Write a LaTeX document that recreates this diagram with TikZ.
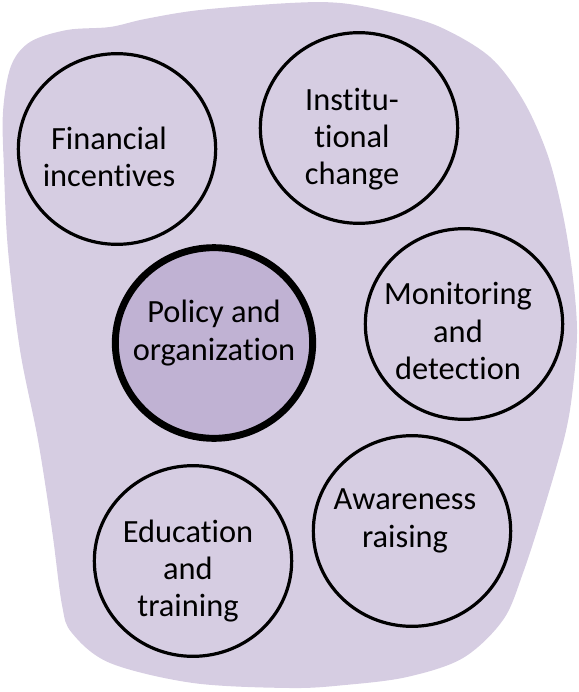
\documentclass[tikz,border=0pt]{standalone}
\usepackage{fontspec}
\setmainfont{Carlito}[Ligatures=NoCommon, RawFeature=-calt, RawFeature=-clig]
\usepackage{xcolor}
\usetikzlibrary{shapes.geometric}

\begin{document}
\begin{tikzpicture}[x=0.75pt, y=-0.75pt]

\definecolor{blobfill}{HTML}{D6CDE2}
\definecolor{corefill}{HTML}{C0B2D3}

\tikzset{
  ring/.style={ellipse, draw=black, line width=2.4pt, minimum width=148pt, minimum height=143pt},
  core/.style={ring, fill=corefill, line width=5.2pt},
  txt/.style={align=center, font=\fontsize{24.3}{28}\selectfont}
}

\useasboundingbox (0,0) rectangle (578,692);

%background shape
\fill[blobfill] plot[smooth cycle, tension=0.55] coordinates {
  (3,112) (11,66) (30,42) (67,30) (110,27) (145,19) (200,10) (290,3)
  (340,3) (390,12) (440,27) (490,57) (523,100) (547,153) (562,210)
  (572,270) (577,330) (573,387) (565,435) (545,505) (523,573) (503,620)
  (463,658) (407,677) (345,685) (290,688) (193,683) (110,663) (72,633)
  (62,605) (52,530) (38,440) (20,350) (8,250) (4,170)};

%circles
\node[ring] (fin) at (117,149) {};
\node[ring] (inst) at (359,128) {};
\node[core] (pol) at (214,343) {};
\node[ring] (mon) at (464,324) {};
\node[ring] (edu) at (193,561) {};
\node[ring] (awa) at (412,531) {};

%labels
\path (fin) ++(-8,8) node[txt] (fint) {Financial\\incentives};
\path (inst) ++(-7,11) node[txt] (instt) {Institu-\\tional\\change};
\path (pol) ++(0,-10) node[txt] (polt) {Policy and\\organization};
\path (mon) ++(-6,7) node[txt] (mont) {Monitoring\\and\\detection};
\path (edu) ++(-5,10) node[txt] (edut) {Education\\and\\training};
\path (awa) ++(-7,-10) node[txt] (awat) {Awareness\\raising};

\end{tikzpicture}
\end{document}
